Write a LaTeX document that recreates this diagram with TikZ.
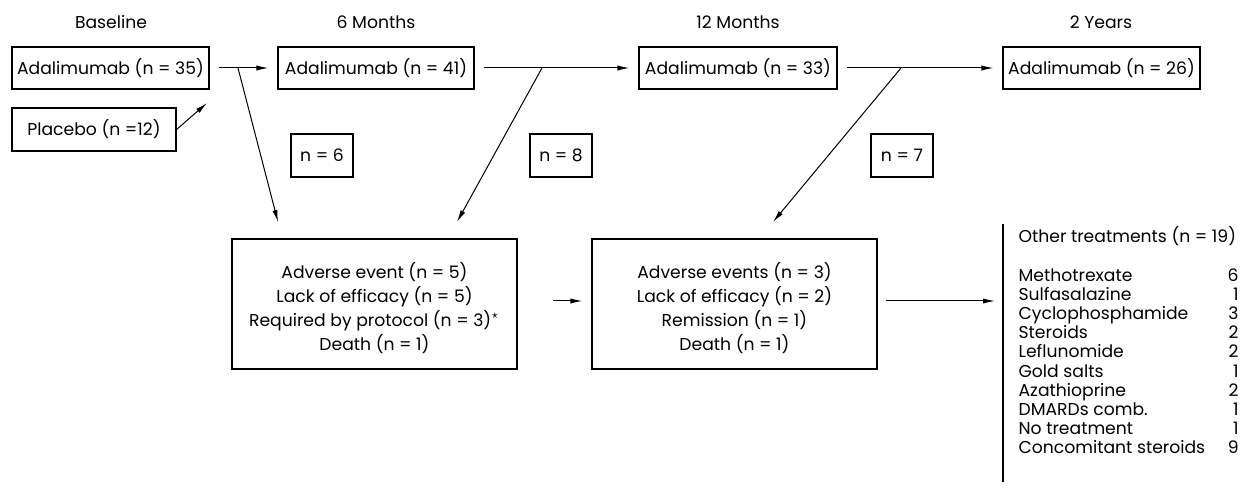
\documentclass[tikz,border=0pt]{standalone}
\usepackage{fontspec}
\setmainfont{Poppins}
\usetikzlibrary{arrows.meta}

\begin{document}
\begin{tikzpicture}[x=0.5pt,y=-0.5pt,line width=0.6pt,
  font=\fontsize{8.6}{12}\selectfont,
  hdr/.style={inner sep=0pt},
  box/.style={draw,inner sep=0pt,minimum height=21pt},
  nbox/.style={draw,inner sep=0pt,minimum width=31pt,minimum height=21.5pt},
  stopbox/.style={draw,inner sep=0pt,align=center,minimum width=142.5pt,minimum height=65pt},
  flow/.style={-{Latex[length=6pt,width=2.6pt]},line width=0.5pt,shorten <=4.5pt,shorten >=4.5pt},
  tip/.style={-{Latex[length=6pt,width=2.6pt]},line width=0.5pt}]
\useasboundingbox (0,0) rectangle (1243,490);
% time points
\node [hdr] (hbase) at (111,22) {Baseline};
\node [hdr] (h6m) at (376,22) {6 Months};
\node [hdr] (h12m) at (738,22) {12 Months};
\node [hdr] (h2y) at (1101,22) {2 Years};
% patients on treatment
\node [box,minimum width=98.5pt] (ada0) at (110.5,68) {Adalimumab (n = 35)};
\node [box,minimum width=82pt,minimum height=21.5pt] (plac) at (94,129.5) {Placebo (n =12)};
\node [box,minimum width=98pt] (ada6) at (376,68) {Adalimumab (n = 41)};
\node [box,minimum width=99pt] (ada12) at (738,68) {Adalimumab (n = 33)};
\node [box,minimum width=98.5pt] (ada24) at (1101.5,68) {Adalimumab (n = 26)};
% withdrawals
\node [nbox] (n6) at (322,155.5) {n = 6};
\node [nbox] (n8) at (561,155.5) {n = 8};
\node [nbox] (n7) at (902,155.5) {n = 7};
\node [stopbox] (stop6) at (374.5,304) {\rule{0pt}{12pt}Adverse event (n = 5)\\Lack of efficacy (n = 5)\\Required by protocol (n = 3)$^\star$\\Death (n = 1)};
\node [stopbox] (stop12) at (734.5,304) {\rule{0pt}{12pt}Adverse events (n = 3)\\Lack of efficacy (n = 2)\\Remission (n = 1)\\Death (n = 1)};
\node [inner sep=0pt,anchor=north west,font=\fontsize{8.6}{9.6}\selectfont] (other) at (1018,226) {%
  \begin{tabular*}{110pt}{@{}l@{\extracolsep{\fill}}r@{}}
  \multicolumn{2}{@{}l@{}}{Other treatments (n = 19)}\\[9.6pt]
  Methotrexate & 6\\
  Sulfasalazine & 1\\
  Cyclophosphamide & 3\\
  Steroids & 2\\
  Leflunomide & 2\\
  Gold salts & 1\\
  Azathioprine & 2\\
  DMARDs comb. & 1\\
  No treatment & 1\\
  Concomitant steroids & 9
  \end{tabular*}};
\draw ([xshift=-7.5pt,yshift=1pt]other.north west) -- ([xshift=-7.5pt,yshift=-11pt]other.south west);
% junctions and free ends
\coordinate (j0) at (238,68);
\coordinate (j6) at (542,68);
\coordinate (j12) at (901,68);
\coordinate (e0) at (278,222);
\coordinate (e6) at (457,222);
\coordinate (e12) at (773,222);
\coordinate (eplac) at (207,103);
\coordinate (eother) at (995,301);
% connectors
\draw [flow] (ada0) -- (ada6);
\draw [flow] (ada6) -- (ada12);
\draw [flow] (ada12) -- (ada24);
\draw [tip] (plac.east) -- (eplac);
\draw [tip] (j0) -- (e0);
\draw [tip] (j6) -- (e6);
\draw [tip] (j12) -- (e12);
\draw [flow,shorten <=17.5pt] ([yshift=1.5pt]stop6.east) -- ([yshift=1.5pt]stop12.west);
\draw [tip,shorten <=4pt] ([yshift=1.5pt]stop12.east) -- (eother);
\end{tikzpicture}
\end{document}
